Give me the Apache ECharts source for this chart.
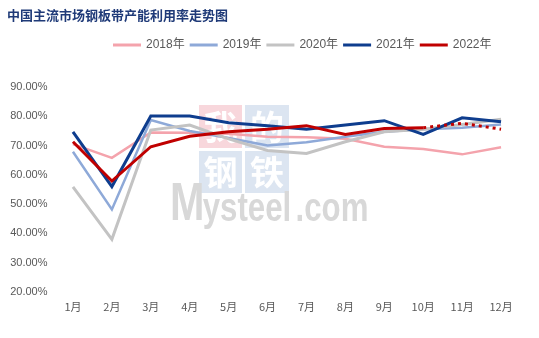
<!DOCTYPE html>
<html>
<head>
<meta charset="utf-8">
<script src="https://cdn.jsdelivr.net/npm/echarts@6/dist/echarts.min.js"></script>
<style>
  html, body { margin: 0; padding: 0; background: #fff; }
  #chart { width: 539px; height: 338px; }
</style>
</head>
<body>
<div id="chart"></div>
<script>
// 月份
var months = ['1月', '2月', '3月', '4月', '5月', '6月', '7月', '8月', '9月', '10月', '11月', '12月'];

// 各年度产能利用率（%）
var y2018 = [70.5, 65.8, 74.5, 74.4, 74.0, 73.0, 72.8, 72.3, 69.6, 68.8, 67.0, 69.4];
var y2019 = [67.9, 48.2, 78.7, 75.0, 72.6, 70.0, 71.1, 73.0, 74.7, 75.6, 76.1, 77.2];
var y2020 = [55.9, 38.0, 75.3, 77.0, 72.3, 68.3, 67.3, 71.3, 74.7, 75.6, 77.2, 79.0];
var y2021 = [74.7, 56.0, 80.1, 80.1, 77.8, 76.8, 75.6, 77.0, 78.5, 73.8, 79.5, 78.1];
var y2022 = [71.3, 57.9, 69.6, 73.2, 74.7, 75.6, 76.8, 73.8, 75.8, 76.1, null, null];
// 2022年预测段（虚线）
var y2022f = [null, null, null, null, null, null, null, null, null, 76.1, 77.6, 75.6];

var legendNames = ['2018年', '2019年', '2020年', '2021年', '2022年'];
var yTicks = [20, 30, 40, 50, 60, 70, 80, 90];

var chart = echarts.init(document.getElementById('chart'), null, { renderer: 'canvas' });

function lineSeries(name, data, color, width, type) {
  return {
    name: name,
    type: 'line',
    data: data,
    symbol: 'none',
    smooth: false,
    connectNulls: false,
    z: 3,
    lineStyle: { color: color, width: width, type: type || 'solid', cap: 'butt', join: 'miter' },
    itemStyle: { color: color }
  };
}

var wmFont = '"Noto Sans CJK SC", sans-serif';
var logoFont = '"Liberation Sans", sans-serif';
var logoColor = '#D8D8D8';

chart.setOption({
  animation: false,
  title: {
    text: '中国主流市场钢板带产能利用率走势图',
    left: 2,
    top: 4,
    textStyle: { fontFamily: '"Noto Sans CJK SC", sans-serif', fontSize: 13, fontWeight: 'bold', color: '#1F3A78' }
  },
  legend: {
    data: legendNames,
    left: 108,
    top: 34,
    icon: 'rect',
    itemWidth: 28,
    itemHeight: 3,
    itemGap: 5,
    textStyle: { fontFamily: '"Liberation Sans", "Noto Sans CJK SC", sans-serif', fontSize: 12, color: '#595959' }
  },
  grid: { left: 53.5, right: 18.5, top: 87, bottom: 46 },
  xAxis: {
    type: 'category',
    data: months,
    boundaryGap: true,
    axisLine: { show: false },
    axisTick: { show: false },
    axisLabel: { margin: 9, fontSize: 11, color: '#595959', fontFamily: '"Noto Sans CJK SC", sans-serif' }
  },
  yAxis: {
    type: 'value',
    min: yTicks[0],
    max: yTicks[yTicks.length - 1],
    interval: 10,
    axisLine: { show: false },
    axisTick: { show: false },
    splitLine: { show: false },
    axisLabel: {
      margin: 6,
      fontSize: 11,
      color: '#595959',
      fontFamily: '"Liberation Sans", sans-serif',
      formatter: function (v) { return v.toFixed(2) + '%'; }
    }
  },
  graphic: [
    { type: 'rect', z: 0, shape: { x: 199, y: 105, width: 43, height: 43 }, style: { fill: '#F8D7DC' } },
    { type: 'rect', z: 0, shape: { x: 245, y: 105, width: 44, height: 43 }, style: { fill: '#DCE5F1' } },
    { type: 'rect', z: 0, shape: { x: 199, y: 151, width: 43, height: 42 }, style: { fill: '#DCE5F1' } },
    { type: 'rect', z: 0, shape: { x: 245, y: 151, width: 44, height: 42 }, style: { fill: '#DCE5F1' } },
    { type: 'text', z: 1, style: { text: '我', x: 220.5, y: 127, align: 'center', verticalAlign: 'middle', font: 'bold 34px ' + wmFont, fill: '#ffffff' } },
    { type: 'text', z: 1, style: { text: '的', x: 267, y: 127, align: 'center', verticalAlign: 'middle', font: 'bold 34px ' + wmFont, fill: '#ffffff' } },
    { type: 'text', z: 1, style: { text: '钢', x: 220.5, y: 172, align: 'center', verticalAlign: 'middle', font: 'bold 34px ' + wmFont, fill: '#ffffff' } },
    { type: 'text', z: 1, style: { text: '铁', x: 267, y: 172, align: 'center', verticalAlign: 'middle', font: 'bold 34px ' + wmFont, fill: '#ffffff' } },
    {
      type: 'group', z: 1, x: 170, y: 0, scaleX: 0.78,
      children: [
        { type: 'text', z: 1, style: { text: 'M', x: 0, y: 205.5, align: 'left', verticalAlign: 'middle', font: 'bold 53px ' + logoFont, fill: logoColor } },
        { type: 'text', z: 1, style: { text: 'ysteel', x: 42, y: 210, align: 'left', verticalAlign: 'middle', font: 'bold 40px ' + logoFont, fill: logoColor } },
        { type: 'text', z: 1, style: { text: '.com', x: 161, y: 210, align: 'left', verticalAlign: 'middle', font: 'bold 40px ' + logoFont, fill: logoColor } }
      ]
    }
  ],
  series: [
    lineSeries('2018年', y2018, '#F4A3AC', 2.5),
    lineSeries('2019年', y2019, '#8EA9D8', 2.5),
    lineSeries('2020年', y2020, '#C3C3C3', 3),
    lineSeries('2021年', y2021, '#0E3D8E', 3),
    lineSeries('2022年', y2022, '#C00000', 3),
    lineSeries('2022年', y2022f, '#C00000', 3, [3, 4])
  ]
});
</script>
</body>
</html>
